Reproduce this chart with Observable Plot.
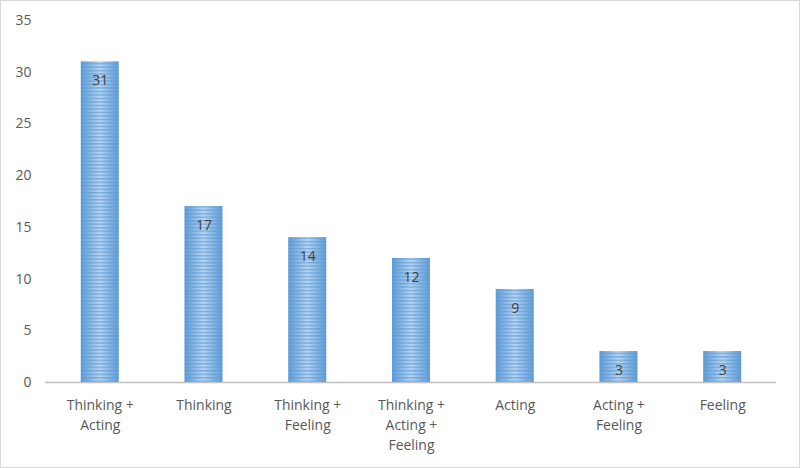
<!DOCTYPE html>
<html>
<head>
<meta charset="utf-8">
<script src="https://cdn.jsdelivr.net/npm/d3@7"></script>
<script src="https://cdn.jsdelivr.net/npm/@observablehq/plot@0.6"></script>
<style>
  html, body { margin: 0; padding: 0; background: #fff; }
  #frame { width: 798px; height: 466px; border: 1px solid #d9d9d9; position: relative; overflow: hidden; }
  #frame svg { position: absolute; left: -1px; top: -1px; }
</style>
</head>
<body>
<div id="frame"></div>
<script>
const categories = ["Thinking + Acting", "Thinking", "Thinking + Feeling", "Thinking + Acting + Feeling", "Acting", "Acting + Feeling", "Feeling"];
const categoryLines = [["Thinking +", "Acting"], ["Thinking"], ["Thinking +", "Feeling"], ["Thinking +", "Acting +", "Feeling"], ["Acting"], ["Acting +", "Feeling"], ["Feeling"]];
const counts = [31, 17, 14, 12, 9, 3, 3];
const yTicks = [0, 5, 10, 15, 20, 25, 30, 35];

const data = categories.map((c, i) => ({category: c, count: counts[i], lines: categoryLines[i].join("\n")}));

const font = "Open Sans, Liberation Sans, sans-serif";

const chart = Plot.plot({
  width: 800,
  height: 468,
  marginTop: 20,
  marginBottom: 85,
  marginLeft: 45,
  marginRight: 22,
  style: {fontFamily: font, fontSize: "14px", color: "#595959", background: "transparent", overflow: "visible"},
  x: {domain: categories, paddingInner: 0.635, paddingOuter: 0.3175, label: null, axis: null},
  y: {domain: [0, 35], ticks: yTicks, label: null, axis: null},
  marks: [
    Plot.axisY({ticks: yTicks, tickSize: 0, tickPadding: 0, dx: -14, fontSize: 14, fill: "#595959", textAnchor: "end"}),
    Plot.barY(data, {x: "category", y: "count", fill: "url(#barGrad)"}),
    Plot.barY(data, {x: "category", y: "count", fill: "url(#barStripes)"}),
    Plot.ruleY([0], {stroke: "#bfbfbf", strokeWidth: 1.5}),
    Plot.text(data, {x: "category", y: "count", text: d => String(d.count), dy: 19, fill: "#404040", fontSize: 14}),
    Plot.text(data, {x: "category", y: 0, text: "lines", dy: 13, lineAnchor: "top", lineHeight: 1.43, fill: "#595959", fontSize: 14})
  ]
});

const ns = "http://www.w3.org/2000/svg";
const defs = document.createElementNS(ns, "defs");
defs.innerHTML = `
  <linearGradient id="barGrad" x1="0" x2="1" y1="0" y2="0">
    <stop offset="0" stop-color="#5e9ad6"/>
    <stop offset="0.5" stop-color="#bad6f3"/>
    <stop offset="1" stop-color="#5e9ad6"/>
  </linearGradient>
  <pattern id="barStripes" patternUnits="userSpaceOnUse" width="8" height="3.5">
    <rect x="0" y="0" width="8" height="1.5" fill="#5b9bd5" fill-opacity="0.65"/>
  </pattern>`;
chart.insertBefore(defs, chart.firstChild);
document.getElementById("frame").appendChild(chart);
</script>
</body>
</html>
